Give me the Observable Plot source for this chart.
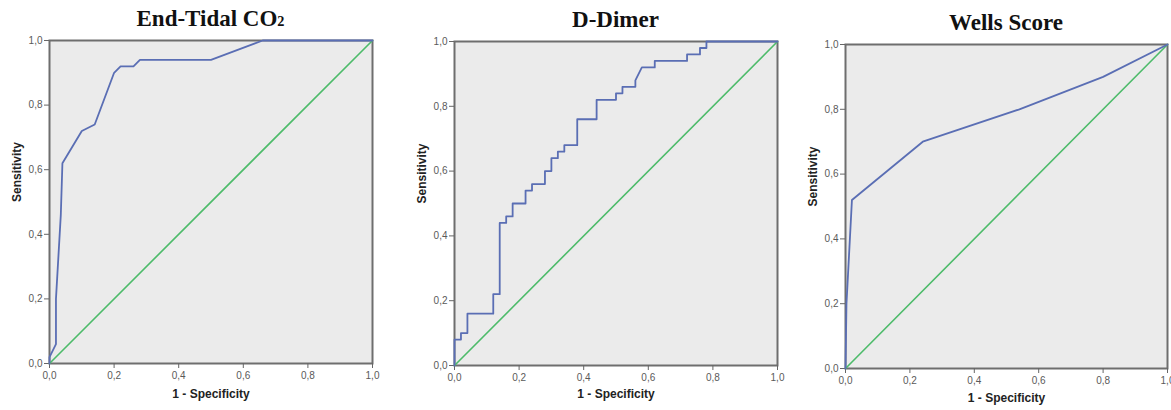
<!DOCTYPE html>
<html><head><meta charset="utf-8">
<script src="https://cdn.jsdelivr.net/npm/d3@7"></script>
<script src="https://cdn.jsdelivr.net/npm/@observablehq/plot@0.6"></script>
<style>
body{margin:0;background:#fff;overflow:hidden}
#wrap{position:relative;width:1171px;height:410px;overflow:hidden;background:#fff}
.panel{position:absolute;top:0}
.panel svg{max-width:none !important}
.title{position:absolute;font-family:"Liberation Serif","Times New Roman",serif;font-weight:bold;font-size:23px;line-height:23px;color:#111;text-align:center;white-space:nowrap}
.title .sub{font-size:0.62em}
</style></head><body><div id="wrap"></div>
<script>
// ---- data ----
const tickValues = [0, 0.2, 0.4, 0.6, 0.8, 1.0];
const tickLabels = ["0,0", "0,2", "0,4", "0,6", "0,8", "1,0"];
const titles = ["End-Tidal CO<span class=\"sub\">2</span>", "D-Dimer", "Wells Score"];
const xLabel = "1 - Specificity";
const yLabel = "Sensitivity";

const etco2Fpr = [0, 0, 0.02, 0.02, 0.035, 0.04, 0.10, 0.14, 0.20, 0.22, 0.26, 0.28, 0.50, 0.66, 1.0];
const etco2Tpr = [0, 0.02, 0.06, 0.20, 0.46, 0.62, 0.72, 0.74, 0.90, 0.92, 0.92, 0.94, 0.94, 1.0, 1.0];

const ddimerFpr = [0, 0, 0.02, 0.02, 0.04, 0.04, 0.12, 0.12, 0.14, 0.14, 0.16, 0.16, 0.18, 0.18, 0.22, 0.22,
  0.24, 0.24, 0.28, 0.28, 0.30, 0.30, 0.32, 0.32, 0.34, 0.34, 0.38, 0.38, 0.44, 0.44, 0.50, 0.50,
  0.52, 0.52, 0.56, 0.56, 0.58, 0.62, 0.62, 0.72, 0.72, 0.76, 0.76, 0.78, 0.78, 1.0];
const ddimerTpr = [0, 0.08, 0.08, 0.10, 0.10, 0.16, 0.16, 0.22, 0.22, 0.44, 0.44, 0.46, 0.46, 0.50, 0.50, 0.54,
  0.54, 0.56, 0.56, 0.60, 0.60, 0.64, 0.64, 0.66, 0.66, 0.68, 0.68, 0.76, 0.76, 0.82, 0.82, 0.84,
  0.84, 0.86, 0.86, 0.88, 0.92, 0.92, 0.94, 0.94, 0.96, 0.96, 0.98, 0.98, 1.0, 1.0];

const wellsFpr = [0, 0.003, 0.02, 0.24, 0.54, 0.80, 1.0];
const wellsTpr = [0, 0.20, 0.52, 0.70, 0.80, 0.90, 1.0];

const refFpr = [0, 1];
const refTpr = [0, 1];

// ---- layout ----
const panels = [
  {fpr: etco2Fpr, tpr: etco2Tpr, left: 0, width: 390, mL: 49, mR: 18, mT: 40, mB: 47, titleTop: 7, xlDy: 34},
  {fpr: ddimerFpr, tpr: ddimerTpr, left: 390, width: 400, mL: 64, mR: 13, mT: 41, mB: 45, titleTop: 8, xlDy: 32},
  {fpr: wellsFpr, tpr: wellsTpr, left: 790, width: 400, mL: 55, mR: 23, mT: 44, mB: 42, titleTop: 11, xlDy: 33}
];

const fmt = d => tickLabels[tickValues.findIndex(t => Math.abs(t - d) < 1e-9)];
const wrap = document.getElementById("wrap");

panels.forEach((p, i) => {
  const curve = p.fpr.map((x, k) => ({x, y: p.tpr[k]}));
  const diag = refFpr.map((x, k) => ({x, y: refTpr[k]}));
  const chart = Plot.plot({
    width: p.width,
    height: 410,
    marginLeft: p.mL, marginRight: p.mR, marginTop: p.mT, marginBottom: p.mB,
    style: {fontFamily: "'Liberation Sans', Arial, sans-serif", background: "transparent", overflow: "visible", maxWidth: "none"},
    x: {domain: [0, 1]},
    y: {domain: [0, 1]},
    marks: [
      Plot.frame({fill: "#ebebeb", stroke: null}),
      Plot.frame({stroke: "#6e6e6e", strokeWidth: 2}),
      Plot.axisX({ticks: tickValues, tickFormat: fmt, tickSize: 5, tickPadding: 3, fontSize: 10, stroke: "#666", fill: "#5a5a5a", label: null}),
      Plot.axisY({ticks: tickValues, tickFormat: fmt, tickSize: 5, tickPadding: 2, fontSize: 10, stroke: "#666", fill: "#5a5a5a", label: null}),
      Plot.line(diag, {x: "x", y: "y", stroke: "#4dbb6a", strokeWidth: 1.6}),
      Plot.line(curve, {x: "x", y: "y", stroke: "#5a6eb4", strokeWidth: 1.8, curve: "linear"}),
      Plot.text([xLabel], {text: d => d, frameAnchor: "bottom", dy: p.xlDy, fontWeight: "bold", fontSize: 12, fill: "#222"}),
      Plot.text([yLabel], {text: d => d, frameAnchor: "left", dx: -32, rotate: -90, fontWeight: "bold", fontSize: 12, fill: "#222"})
    ]
  });
  const div = document.createElement("div");
  div.className = "panel";
  div.style.left = p.left + "px";
  div.style.width = p.width + "px";
  div.style.height = "410px";
  div.appendChild(chart);
  wrap.appendChild(div);

  const t = document.createElement("div");
  t.className = "title";
  const pw = p.width - p.mL - p.mR;
  t.style.left = (p.left + p.mL - 60) + "px";
  t.style.width = (pw + 120) + "px";
  t.style.top = p.titleTop + "px";
  t.innerHTML = titles[i];
  wrap.appendChild(t);
});
</script></body></html>
